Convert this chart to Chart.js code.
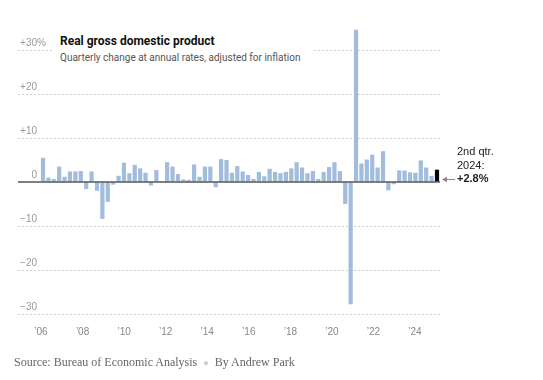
<!DOCTYPE html>
<html lang="en">
<head>
  <meta charset="UTF-8" />
  <title>Real gross domestic product</title>
  <script src="https://cdn.jsdelivr.net/npm/chart.js"></script>
  <style>
    body { margin: 0; background: #fff; }
    #wrap { position: relative; width: 543px; height: 380px; }
    #head { position: absolute; left: 52px; top: 34px; width: 253px; padding: 0 0 4px 8px; background: #fff;
            font-family: Roboto, "Liberation Sans", sans-serif; }
    #head .t { font-size: 12px; font-weight: bold; line-height: 15px; color: #111; }
    #head .s { font-size: 10px; line-height: 13px; color: #555; margin-top: 2px; }
    #note { position: absolute; left: 457px; top: 145px; font: 11px/13.5px "Liberation Sans", Arial, sans-serif; color: #222; }
    #arrow { position: absolute; left: 442px; top: 176px; }
    #source { position: absolute; left: 14px; top: 355px; font: 12px "Liberation Serif", "Times New Roman", serif; color: #666; }
    #source .dot { color: #ccc; margin: 0 6px; font-size: 9px; }
  </style>
</head>
<body>
<div id="wrap">
  <canvas id="gdpChart" width="543" height="380"></canvas>
  <div id="head">
    <div class="t">Real gross domestic product</div>
    <div class="s">Quarterly change at annual rates, adjusted for inflation</div>
  </div>
  <svg id="arrow" width="14" height="7"><polygon points="0,3.5 5,0.8 5,6.2" fill="#888"/><line x1="4" y1="3.5" x2="13" y2="3.5" stroke="#888" stroke-width="1"/></svg>
  <div id="note">2nd qtr.<br>2024:<br><b>+2.8%</b></div>
  <div id="source">Source: Bureau of Economic Analysis<span class="dot">●</span>By Andrew Park</div>
</div>

<script>
  // quarters from 2006 Q1 to 2024 Q2
  const startYear = 2006;
  const quarters = [];
  for (let y = 2006; y <= 2024; y++) {
    for (let q = 1; q <= 4; q++) {
      if (y === 2024 && q > 2) break;
      quarters.push(y + ' Q' + q);
    }
  }

  // % change at annual rate
  const growth = [
    5.5, 1.0, 0.7, 3.5,      // 2006
    1.2, 2.4, 2.4, 2.5,      // 2007
    -1.6, 2.4, -2.0, -8.4,   // 2008
    -4.5, -0.6, 1.4, 4.4,    // 2009
    2.0, 3.9, 3.1, 2.1,      // 2010
    -0.8, 2.7, -0.1, 4.5,    // 2011
    3.5, 1.8, 0.6, 0.5,      // 2012
    4.0, 1.2, 3.5, 3.5,      // 2013
    -1.2, 5.2, 5.0, 2.1,     // 2014
    3.6, 2.4, 1.6, 0.7,      // 2015
    2.3, 1.3, 3.0, 2.3,      // 2016
    2.0, 2.3, 3.1, 4.5,      // 2017
    3.3, 2.0, 2.5, 0.7,      // 2018
    2.3, 3.4, 4.5, 2.5,      // 2019
    -5.0, -27.8, 34.6, 4.2,  // 2020
    5.1, 6.2, 3.3, 7.0,      // 2021
    -1.9, -0.5, 2.65, 2.6,   // 2022
    2.2, 2.1, 4.9, 3.3,      // 2023
    1.4, 2.8                 // 2024
  ];

  const yTicks = [-30, -20, -10, 0, 10, 20, 30];
  const yearTicks = [2006, 2008, 2010, 2012, 2014, 2016, 2018, 2020, 2022, 2024];
  const yearLabels = ['’06', '’08', '’10', '’12', '’14', '’16', '’18', '’20', '’22', '’24'];

  const barColor = '#a2bcdc';
  const latestColor = '#000';
  const sans = '"Liberation Sans", Arial, sans-serif';

  // zero line on top of the bars, y labels sitting above the grid lines
  const extras = {
    id: 'extras',
    afterDatasetsDraw(chart) {
      const { ctx, chartArea, scales } = chart;
      const y0 = scales.y.getPixelForValue(0);
      ctx.save();
      ctx.strokeStyle = '#555';
      ctx.lineWidth = 1.5;
      ctx.beginPath();
      ctx.moveTo(chartArea.left, y0);
      ctx.lineTo(chartArea.right, y0);
      ctx.stroke();

      ctx.font = '10px ' + sans;
      ctx.fillStyle = '#999';
      ctx.textBaseline = 'alphabetic';
      const lx = chartArea.left + 19;
      yTicks.forEach(v => {
        const py = scales.y.getPixelForValue(v) - 4;
        const txt = v > 0 ? '+' + v : (v < 0 ? '\u2212' + (-v) : '0');
        ctx.textAlign = 'right';
        ctx.fillText(txt, lx, py);
        if (v === yTicks[yTicks.length - 1]) {
          ctx.textAlign = 'left';
          ctx.fillText('%', lx, py);
        }
      });
      ctx.restore();
    }
  };

  const ctx = document.getElementById('gdpChart').getContext('2d');
  new Chart(ctx, {
    type: 'bar',
    data: {
      datasets: [{
        label: 'Real GDP',
        data: growth.map((v, i) => ({ x: startYear + i / 4, y: v })),
        backgroundColor: growth.map((v, i) => i === growth.length - 1 ? latestColor : barColor),
        categoryPercentage: 1,
        barPercentage: 0.78,
        clip: false
      }]
    },
    plugins: [extras],
    options: {
      responsive: false,
      animation: false,
      layout: { padding: { left: 18, right: 103, top: 50, bottom: 30 } },
      plugins: { legend: { display: false }, tooltip: { enabled: false } },
      scales: {
        x: { type: 'linear', min: 2004.842, max: 2024.389, offset: false, display: false },
        yr: {
          type: 'linear',
          position: 'bottom',
          min: 2004.893,
          max: 2025.203,
          offset: false,
          afterBuildTicks: s => { s.ticks = yearTicks.map(v => ({ value: v })); },
          ticks: {
            autoSkip: false,
            maxRotation: 0,
            padding: 12,
            color: '#888',
            font: { size: 10, family: sans },
            callback: (v, i) => yearLabels[i]
          },
          grid: { display: false, drawTicks: false, offset: false },
          border: { display: false }
        },
        y: {
          min: -30,
          max: 30,
          afterBuildTicks: s => { s.ticks = yTicks.map(v => ({ value: v })); },
          ticks: { display: false },
          grid: {
            drawTicks: false,
            lineWidth: 1,
            color: c => (c.tick && c.tick.value === 0) ? 'rgba(0,0,0,0)' : '#d2d2d2'
          },
          border: { display: false, dash: [2, 2] }
        }
      }
    }
  });
</script>
</body>
</html>
